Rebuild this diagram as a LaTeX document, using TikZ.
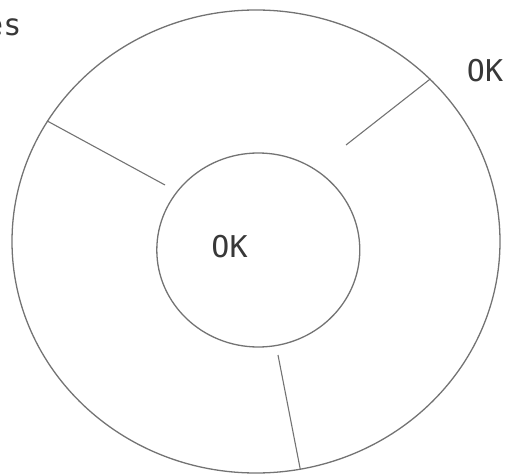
\documentclass[tikz,border=0pt]{standalone}
\usepackage{fontspec}
\setmonofont{DejaVu Sans Mono}
\usetikzlibrary{positioning,shapes.geometric}
\definecolor{rim}{gray}{0.45}
\definecolor{ink}{gray}{0.22}
\tikzset{
  every picture/.style={line width=1.3pt},
  ring/.style={draw=rim,ellipse,inner sep=0pt},
  spoke/.style={draw=rim,line width=1.1pt},
  lbl/.style={font=\ttfamily\fontsize{30}{36}\selectfont,text=ink,inner sep=0pt},
}

\begin{document}
\begin{tikzpicture}[x=1pt,y=-1pt]
\useasboundingbox (0,0) rectangle (506,476);
% rings
\node[ring,minimum width=488pt,minimum height=463pt] (outer) at (256,241.5) {};
\node[ring,minimum width=203pt,minimum height=194pt] (inner) at (258.3,250) {};
% free ends of the spokes
\coordinate (s1) at (165,185);
\coordinate (s2) at (346,145);
\coordinate (s3) at (278,355);
\draw[spoke] (outer.150.4) -- (s1);
\draw[spoke] (outer.43.5) -- (s2);
\draw[spoke] (s3) -- (outer.281.3);
% labels
\node[lbl,anchor=base] (okin) at (229.5,257) {OK};
\node[lbl,anchor=base] (okout) at (485,82) {OK};
\node[lbl,anchor=base east] (es) at (22,36) {es};
\end{tikzpicture}
\end{document}
